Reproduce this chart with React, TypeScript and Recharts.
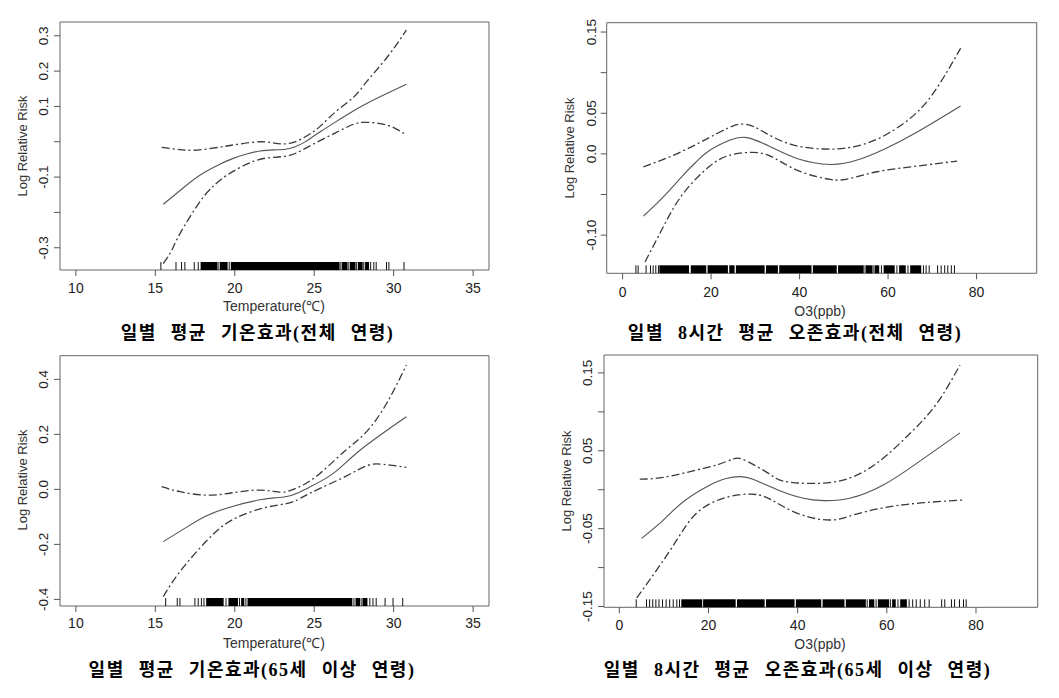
import React from 'react';
import { ComposedChart, Line, XAxis, YAxis, Scatter, ReferenceArea } from 'recharts';

type P = [number, number];

// ---- Panel 1: temperature, all ages ----
const t1Fit: P[] = [[15.5,-0.177],[16.5,-0.14],[17.8,-0.095],[19.0,-0.065],[19.9,-0.047],[20.8,-0.034],[21.6,-0.026],[22.5,-0.023],[23.2,-0.021],[23.8,-0.014],[24.4,-0.001],[24.9,0.014],[25.5,0.032],[26.2,0.052],[27.2,0.080],[28.3,0.108],[29.5,0.135],[30.8,0.163]];
const t1Upper: P[] = [[15.4,-0.016],[16.5,-0.022],[17.4,-0.024],[18.5,-0.019],[19.5,-0.012],[20.5,-0.005],[21.6,0.0],[22.4,-0.003],[23.0,-0.006],[23.6,-0.003],[24.2,0.008],[24.8,0.024],[25.4,0.045],[26.4,0.087],[27.5,0.127],[28.3,0.170],[29.6,0.24],[30.8,0.316]];
const t1Lower: P[] = [[15.5,-0.345],[16.0,-0.31],[16.55,-0.26],[17.8,-0.17],[18.6,-0.128],[19.5,-0.095],[21.2,-0.055],[22.5,-0.044],[23.5,-0.038],[24.3,-0.022],[25.4,0.004],[26.5,0.029],[27.5,0.050],[28.3,0.055],[29.6,0.047],[30.8,0.019]];
const t1RugTicks = [15.35,16.3,16.65,16.86,17.45,17.7,18.95,19.65,26.68,27.18,27.67,28.12,28.55,28.75,28.9,29.55,29.7,30.65];
const t1RugBands: P[] = [[17.85,18.9],[19.05,19.55],[19.75,26.6],[26.75,27.1],[27.25,27.6],[27.75,28.05],[28.2,28.45]];

// ---- Panel 2: ozone, all ages ----
const o1Fit: P[] = [[4.7,-0.0766],[9.2,-0.053],[13.7,-0.026],[16.8,-0.009],[19.8,0.0047],[24.3,0.017],[28.1,0.020],[33.4,0.0088],[39.4,-0.0056],[46.9,-0.013],[53.0,-0.0076],[59.0,0.0055],[66.6,0.027],[76.4,0.059]];
const o1Upper: P[] = [[4.7,-0.016],[10.7,-0.0035],[16.75,0.012],[22.0,0.027],[25.0,0.0345],[27.3,0.0367],[29.5,0.034],[31.8,0.0273],[37.9,0.012],[45.4,0.006],[51.5,0.008],[57.5,0.018],[63.5,0.0375],[69.6,0.070],[76.4,0.130]];
const o1Lower: P[] = [[5.06,-0.133],[9.2,-0.0897],[13.7,-0.0487],[19.8,-0.0146],[24.3,-0.0015],[28.8,0.0018],[33.4,-0.0027],[39.4,-0.020],[46.9,-0.0314],[51.5,-0.030],[57.5,-0.022],[65.1,-0.016],[75.6,-0.0089]];
const o1RugTicks = [3.0,3.5,5.3,6.3,6.9,7.5,8.1,54.8,56.8,58.5,62.0,64.5,68.0,68.6,69.3,71.2,72.0,72.8,73.5,74.3,75.0];
const o1RugBands: P[] = [[8.3,15.0],[15.4,18.9],[19.2,23.8],[24.1,25.3],[25.6,32.1],[32.4,35.1],[35.4,42.7],[43.0,48.4],[48.7,54.5],[55.0,56.5],[57.0,58.0],[59.0,61.5],[62.5,64.0],[65.0,67.5]];

// ---- Panel 3: temperature, 65+ ----
const t2Fit: P[] = [[15.5,-0.190],[16.9,-0.14],[18.23,-0.096],[19.9,-0.061],[21.59,-0.038],[22.5,-0.031],[23.27,-0.026],[24.0,-0.012],[24.7,0.008],[26.2,0.058],[27.9,0.143],[30.8,0.264]];
const t2Upper: P[] = [[15.4,0.0097],[16.55,-0.0085],[18.23,-0.021],[19.9,-0.012],[21.59,-0.0024],[22.85,-0.010],[23.6,-0.002],[24.3,0.016],[25.36,0.058],[27.0,0.143],[28.3,0.21],[29.56,0.313],[30.8,0.452]];
const t2Lower: P[] = [[15.5,-0.39],[16.55,-0.299],[18.23,-0.187],[19.9,-0.109],[22.0,-0.065],[23.4,-0.050],[24.2,-0.030],[25.36,0.0036],[27.0,0.048],[28.3,0.086],[29.35,0.091],[30.8,0.08]];
const t2RugTicks = [15.65,16.38,16.55,17.49,17.7,17.9,18.06,19.45,20.3,20.7,27.5,28.0,28.5,28.7,28.9,29.46,29.96,30.57];
const t2RugBands: P[] = [[18.2,19.3],[19.6,20.2],[20.4,20.6],[20.8,27.4],[27.6,27.9],[28.05,28.35]];

// ---- Panel 4: ozone, 65+ ----
const o2Fit: P[] = [[5.0,-0.0624],[9.87,-0.039],[14.36,-0.0154],[20.34,0.006],[24.0,0.0145],[27.0,0.0168],[30.0,0.0135],[35.3,0.0004],[41.3,-0.011],[45.8,-0.014],[51.7,-0.011],[59.2,0.006],[66.7,0.0338],[76.4,0.073]];
const o2Upper: P[] = [[4.6,0.0137],[9.87,0.0158],[17.3,0.0252],[22.0,0.032],[25.5,0.0395],[27.5,0.0395],[30.8,0.030],[34.0,0.019],[36.8,0.0111],[42.8,0.0081],[50.2,0.0124],[57.7,0.0338],[65.2,0.0722],[71.2,0.1107],[76.4,0.16]];
const o2Lower: P[] = [[3.9,-0.139],[8.4,-0.103],[12.9,-0.0645],[17.3,-0.0303],[23.3,-0.011],[29.3,-0.0056],[33.8,-0.012],[39.8,-0.030],[47.3,-0.0389],[53.2,-0.0312],[60.7,-0.0218],[68.2,-0.0167],[77.2,-0.0132]];
const o2RugTicks = [3.8,6.1,6.8,7.5,8.2,8.9,9.7,10.5,11.3,12.1,12.9,13.5,55.6,57.6,60.8,62.5,65.0,65.8,66.6,67.5,68.5,69.5,72.3,73.0,74.5,75.2,76.3,77.2,77.8];
const o2RugBands: P[] = [[13.9,18.6],[18.8,26.1],[26.4,32.6],[32.9,39.3],[39.6,45.3],[45.6,50.5],[50.8,55.3],[56.0,57.2],[58.0,60.5],[61.2,62.0],[63.0,64.5]];

// ---- ticks ----
const tempTicks = [10, 15, 20, 25, 30, 35];
const o3Ticks = [0, 20, 40, 60, 80];
const y1Ticks = [-0.3, -0.2, -0.1, 0, 0.1, 0.2, 0.3];
const y1Labels = ['-0.3', '', '-0.1', '', '0.1', '0.2', '0.3'];
const y2Ticks = [-0.1, -0.05, 0, 0.05, 0.1, 0.15];
const y2Labels = ['-0.10', '', '0.0', '0.05', '', '0.15'];
const y3Ticks = [-0.4, -0.2, 0, 0.2, 0.4];
const y3Labels = ['-0.4', '-0.2', '0.0', '0.2', '0.4'];
const y4Ticks = [-0.15, -0.1, -0.05, 0, 0.05, 0.1, 0.15];
const y4Labels = ['-0.15', '', '-0.05', '', '0.05', '', '0.15'];

const toPts = (arr: P[]) => arr.map(([x, y]) => ({ x, y }));

const SANS = "'Liberation Sans', Arial, sans-serif";
const LINE_COLOR = '#3a3a3a';
const DASHDOT = '8 3 2 3';

interface Cfg {
  left: number; top: number; width: number; height: number;
  mTop: number; mRight: number; yAxisWidth: number; xAxisHeight: number;
  xDomain: [number, number]; yDomain: [number, number];
  xTicks: number[]; yTicks: number[]; yLabels: string[];
  yTickMargin: number; xTickMargin: number;
  fit: P[]; upper: P[]; lower: P[]; rugTicks: number[]; rugBands: P[];
}

const RugShape = (props: any) => {
  const { cx, cy } = props;
  if (cx == null || cy == null) return null;
  return <line x1={cx} x2={cx} y1={cy} y2={cy - 8} stroke="#111" strokeWidth={1} />;
};

function Panel({ cfg }: { cfg: Cfg }) {
  const plotH = cfg.height - cfg.mTop - cfg.xAxisHeight;
  const [y0, y1] = cfg.yDomain;
  const [x0, x1] = cfg.xDomain;
  const rugH = ((y1 - y0) * 8) / plotH;
  const rugPts = cfg.rugTicks.map((x) => ({ x, y: y0 }));
  const yTick = (p: any) => {
    const idx = cfg.yTicks.findIndex((t) => Math.abs(t - p.payload.value) < 1e-9);
    const label = idx >= 0 ? cfg.yLabels[idx] : '';
    if (!label) return <g />;
    return (
      <text x={p.x} y={p.y} transform={`rotate(-90 ${p.x} ${p.y})`} textAnchor="middle" dy="0.36em"
        fontSize={13.5} fill="#222" fontFamily={SANS}>{label}</text>
    );
  };
  return (
    <div style={{ position: 'absolute', left: cfg.left, top: cfg.top }}>
      <ComposedChart width={cfg.width} height={cfg.height}
        margin={{ top: cfg.mTop, right: cfg.mRight, bottom: 0, left: 0 }}>
        <XAxis type="number" dataKey="x" domain={cfg.xDomain} allowDataOverflow ticks={cfg.xTicks}
          interval={0} axisLine={false} tickLine={{ stroke: '#555' }} tickSize={6}
          tickMargin={cfg.xTickMargin} height={cfg.xAxisHeight}
          tick={{ fill: '#222', fontSize: 14, fontFamily: SANS }} />
        <YAxis type="number" domain={cfg.yDomain} allowDataOverflow ticks={cfg.yTicks} interval={0}
          width={cfg.yAxisWidth} axisLine={false} tickLine={{ stroke: '#555' }} tickSize={6}
          tickMargin={cfg.yTickMargin} tick={yTick} />
        <ReferenceArea x1={x0} x2={x1} y1={y0} y2={y1} fill="none" fillOpacity={0} stroke="#666" strokeWidth={1} />
        {cfg.rugBands.map(([a, b], i) => (
          <ReferenceArea key={'b' + i} x1={a} x2={b} y1={y0} y2={y0 + rugH} fill="#000" fillOpacity={1} stroke="none" />
        ))}
        <Scatter data={rugPts} dataKey="y" shape={RugShape} isAnimationActive={false} />
        <Line data={toPts(cfg.upper)} dataKey="y" type="natural" dot={false} stroke={LINE_COLOR}
          strokeWidth={1.3} strokeDasharray={DASHDOT} isAnimationActive={false} />
        <Line data={toPts(cfg.lower)} dataKey="y" type="natural" dot={false} stroke={LINE_COLOR}
          strokeWidth={1.3} strokeDasharray={DASHDOT} isAnimationActive={false} />
        <Line data={toPts(cfg.fit)} dataKey="y" type="natural" dot={false} stroke="#555"
          strokeWidth={1.1} isAnimationActive={false} />
      </ComposedChart>
    </div>
  );
}

const panels: Cfg[] = [
  { left: 0, top: 0, width: 530, height: 300, mTop: 22, mRight: 41, yAxisWidth: 60, xAxisHeight: 30,
    xDomain: [9, 36], yDomain: [-0.363, 0.339], xTicks: tempTicks, yTicks: y1Ticks, yLabels: y1Labels,
    yTickMargin: 11, xTickMargin: 7, fit: t1Fit, upper: t1Upper, lower: t1Lower, rugTicks: t1RugTicks, rugBands: t1RugBands },
  { left: 530, top: 0, width: 529, height: 300, mTop: 22.7, mRight: 22.3, yAxisWidth: 76.7, xAxisHeight: 26.7,
    xDomain: [-3.6, 93.6], yDomain: [-0.147, 0.1615], xTicks: o3Ticks, yTicks: y2Ticks, yLabels: y2Labels,
    yTickMargin: 9.7, xTickMargin: 8, fit: o1Fit, upper: o1Upper, lower: o1Lower, rugTicks: o1RugTicks, rugBands: o1RugBands },
  { left: 0, top: 350, width: 530, height: 300, mTop: 5.7, mRight: 41, yAxisWidth: 60, xAxisHeight: 44,
    xDomain: [9, 36], yDomain: [-0.424, 0.486], xTicks: tempTicks, yTicks: y3Ticks, yLabels: y3Labels,
    yTickMargin: 11, xTickMargin: 6, fit: t2Fit, upper: t2Upper, lower: t2Lower, rugTicks: t2RugTicks, rugBands: t2RugBands },
  { left: 530, top: 350, width: 529, height: 300, mTop: 5, mRight: 21.3, yAxisWidth: 74, xAxisHeight: 42.7,
    xDomain: [-3.43, 93.84], yDomain: [-0.151, 0.173], xTicks: o3Ticks, yTicks: y4Ticks, yLabels: y4Labels,
    yTickMargin: 11.3, xTickMargin: 7, fit: o2Fit, upper: o2Upper, lower: o2Lower, rugTicks: o2RugTicks, rugBands: o2RugBands },
];

const xTitles: [string, number, number][] = [
  ['Temperature(℃)', 274, 306], ['O3(ppb)', 820, 310.7], ['Temperature(℃)', 274, 642.7], ['O3(ppb)', 820, 644],
];
const yTitles: [number, number][] = [[23, 146], [570, 148], [23, 480], [566.7, 481]];
const captions: [string, number, number][] = [
  ['일별 평균 기온효과(전체 연령)', 257.5, 333],
  ['일별 8시간 평균 오존효과(전체 연령)', 795, 333],
  ['일별 평균 기온효과(65세 이상 연령)', 252, 670],
  ['일별 8시간 평균 오존효과(65세 이상 연령)', 797.5, 670],
];

export default function App() {
  return (
    <div style={{ position: 'absolute', left: 0, top: 0, width: 1059, height: 698, background: '#fff', overflow: 'hidden' }}>
      {panels.map((p, i) => <Panel key={i} cfg={p} />)}
      {xTitles.map(([t, cx, cy], i) => (
        <div key={'x' + i} style={{ position: 'absolute', left: cx - 150, top: cy - 10, width: 300, height: 20,
          lineHeight: '20px', textAlign: 'center', fontFamily: SANS, fontSize: 14, color: '#333' }}>{t}</div>
      ))}
      {yTitles.map(([cx, cy], i) => (
        <div key={'y' + i} style={{ position: 'absolute', left: cx, top: cy, transform: 'translate(-50%, -50%) rotate(-90deg)',
          whiteSpace: 'nowrap', fontFamily: SANS, fontSize: 13, color: '#333', lineHeight: '16px' }}>Log Relative Risk</div>
      ))}
      {captions.map(([t, cx, cy], i) => (
        <div key={'c' + i} style={{ position: 'absolute', left: cx - 250, top: cy - 13, width: 500, height: 26,
          lineHeight: '26px', textAlign: 'center', fontFamily: "'Liberation Serif', 'Noto Sans CJK KR', serif",
          fontWeight: 'bold', fontSize: 18, letterSpacing: '1.5px', wordSpacing: '8px', color: '#000', whiteSpace: 'nowrap' }}>{t}</div>
      ))}
    </div>
  );
}
